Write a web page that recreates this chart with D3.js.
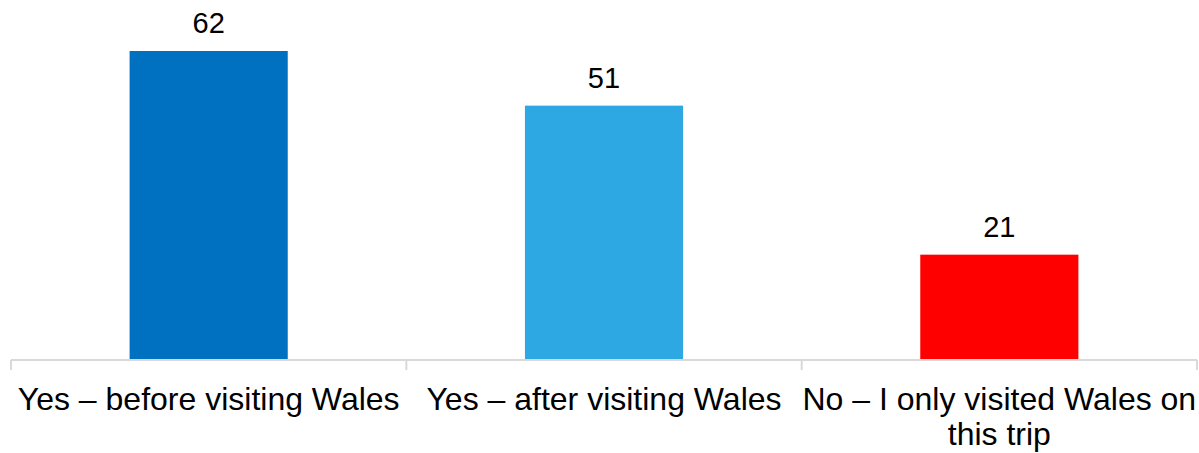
<!DOCTYPE html>
<html>
<head>
<meta charset="utf-8">
<script src="https://cdn.jsdelivr.net/npm/d3@7"></script>
<style>
  body { margin: 0; background: #fff; }
  svg { display: block; font-family: Arial, "Liberation Sans", sans-serif; }
</style>
</head>
<body>
<svg id="chart"></svg>
<script>
const categories = ["Yes \u2013 before visiting Wales", "Yes \u2013 after visiting Wales", "No \u2013 I only visited Wales on this trip"];
const labelLines = [["Yes \u2013 before visiting Wales"], ["Yes \u2013 after visiting Wales"], ["No \u2013 I only visited Wales on", "this trip"]];
const values = [62, 51, 21];
const colors = ["#0070C0", "#2DA8E3", "#FF0000"];

const width = 1199, height = 453;
const margin = { top: 51, right: 2, bottom: 94, left: 11 };

const svg = d3.select("#chart")
  .attr("width", width)
  .attr("height", height);

const x = d3.scaleBand()
  .domain(categories)
  .range([margin.left, width - margin.right])
  .padding(0);

const y = d3.scaleLinear()
  .domain([0, 62])
  .range([height - margin.bottom, margin.top]);

const barW = x.bandwidth() * 0.4;

// bars
svg.selectAll(".bar")
  .data(categories)
  .enter()
  .append("rect")
  .attr("class", "bar")
  .attr("x", d => x(d) + (x.bandwidth() - barW) / 2)
  .attr("y", (d, i) => y(values[i]))
  .attr("width", barW)
  .attr("height", (d, i) => y(0) - y(values[i]))
  .attr("fill", (d, i) => colors[i]);

// value labels
svg.selectAll(".val")
  .data(categories)
  .enter()
  .append("text")
  .attr("x", d => x(d) + x.bandwidth() / 2)
  .attr("y", (d, i) => y(values[i]) - 18)
  .attr("text-anchor", "middle")
  .style("font-size", "29px")
  .style("fill", "#000")
  .text((d, i) => values[i]);

// axis line and ticks
const base = y(0) + 1;
svg.append("line")
  .attr("x1", margin.left).attr("x2", width - margin.right)
  .attr("y1", base).attr("y2", base)
  .attr("stroke", "#d9d9d9").attr("stroke-width", 2);

const tickXs = categories.map(d => x(d)).concat([width - margin.right]);
svg.selectAll(".tick")
  .data(tickXs)
  .enter()
  .append("line")
  .attr("x1", d => d).attr("x2", d => d)
  .attr("y1", base).attr("y2", base + 10)
  .attr("stroke", "#d9d9d9").attr("stroke-width", 2);

// category labels
categories.forEach((c, i) => {
  const t = svg.append("text")
    .attr("x", x(c) + x.bandwidth() / 2)
    .attr("y", 410)
    .attr("text-anchor", "middle")
    .style("font-size", "32px")
    .style("fill", "#000");
  labelLines[i].forEach((line, j) => {
    t.append("tspan")
      .attr("x", x(c) + x.bandwidth() / 2)
      .attr("dy", j === 0 ? 0 : 35)
      .text(line);
  });
});
</script>
</body>
</html>
